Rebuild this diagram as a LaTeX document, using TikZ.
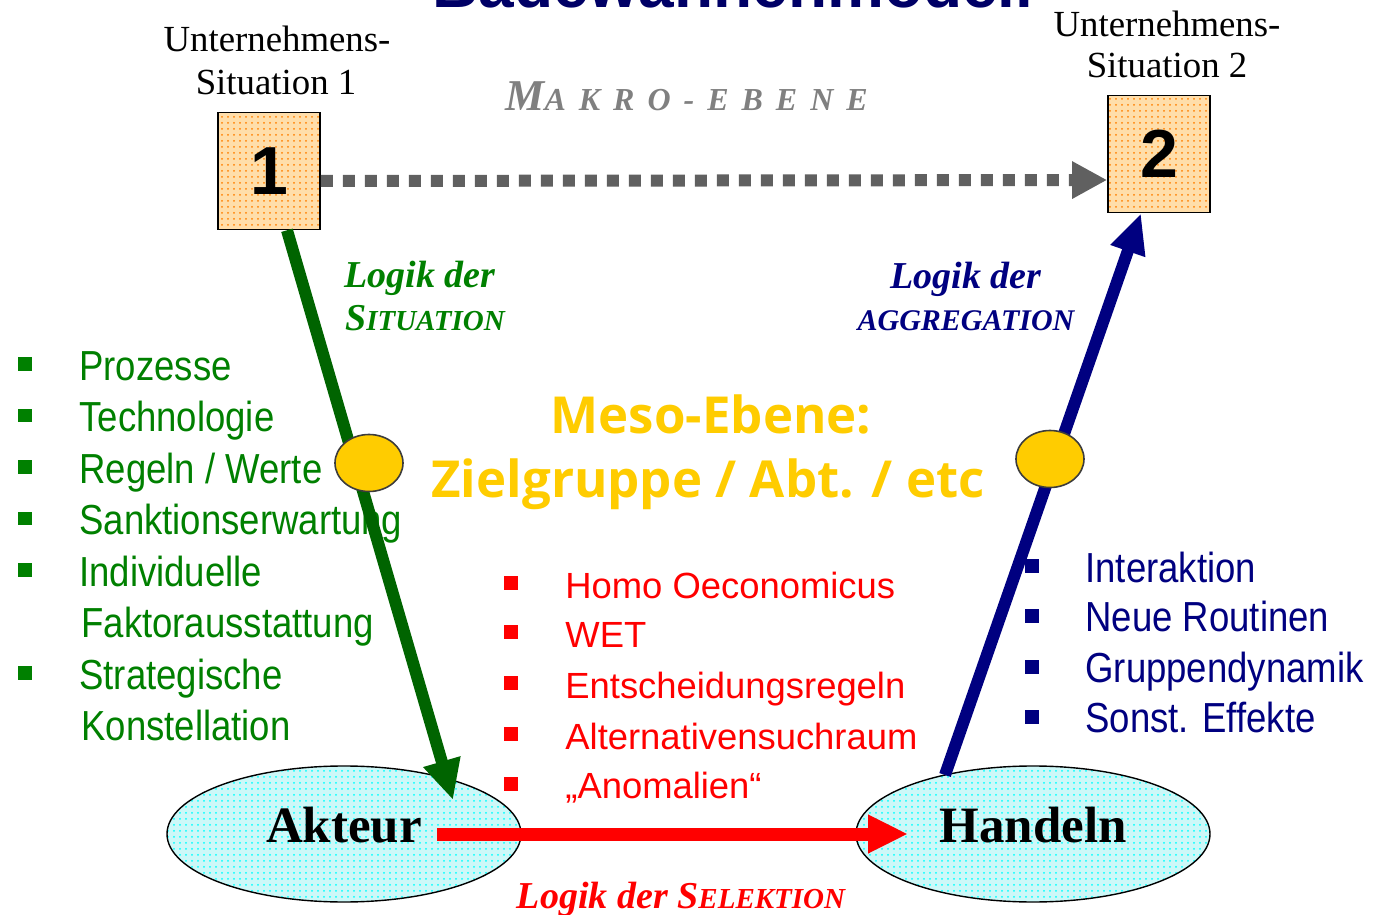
\documentclass[tikz,border=0pt]{standalone}
\usepackage{fontspec}
\usepackage{graphicx}
\setmainfont{Liberation Serif}
\newfontfamily\arialf{Liberation Sans}
\newfontfamily\mesof{Open Sans}
\usetikzlibrary{arrows.meta,patterns,shapes.geometric,calc}
\definecolor{titleblue}{RGB}{0,0,102}
\definecolor{navy}{RGB}{0,0,128}
\definecolor{dgreen}{RGB}{0,100,0}
\definecolor{lgreen}{RGB}{0,128,0}
\definecolor{gold}{RGB}{255,204,0}
\definecolor{makrogray}{RGB}{128,128,128}
\definecolor{dotgray}{RGB}{96,96,96}
\definecolor{boxfill}{RGB}{255,222,170}
\definecolor{ellfill}{RGB}{205,248,248}
\definecolor{yellborder}{RGB}{60,60,60}
\newcommand\vs[1]{\scalebox{0.87}[1]{#1}}
\newcommand\mk{\hspace{6.5pt}}
\begin{document}
\begin{tikzpicture}[x=0.5pt,y=-0.5pt,
  sitbox/.style={rectangle, draw=black, line width=0.8pt, preaction={fill=boxfill}, pattern=dots, pattern color=orange, minimum width=51pt, minimum height=58.5pt, inner sep=0pt, font=\arialf\bfseries\fontsize{34}{34}\selectfont},
  actell/.style={ellipse, draw=black, line width=0.7pt, preaction={fill=ellfill}, pattern=dots, pattern color=cyan, minimum width=177pt, minimum height=68pt, inner sep=0pt, font=\bfseries\fontsize{25.5}{26}\selectfont, text height=17pt, text depth=9pt},
  yell/.style={ellipse, draw=yellborder, line width=0.8pt, fill=gold, minimum width=34pt, minimum height=28.5pt, inner sep=0pt},
  unt/.style={anchor=base, inner sep=0pt, font=\fontsize{18.4}{21}\selectfont},
  logik/.style={anchor=base, inner sep=0pt, font=\bfseries\itshape\fontsize{19}{20}\selectfont},
  glist/.style={anchor=base west, inner sep=0pt, text=lgreen, font=\arialf\fontsize{21}{24}\selectfont},
  blist/.style={anchor=base west, inner sep=0pt, text=navy, font=\arialf\fontsize{21}{24}\selectfont},
  rlist/.style={anchor=base west, inner sep=0pt, text=red, font=\arialf\fontsize{18.2}{21}\selectfont},
  bullet/.style={rectangle, inner sep=0pt, minimum size=6.8pt},
  meso/.style={anchor=base, inner sep=0pt, text=gold, font=\mesof\bfseries\fontsize{25.5}{28}\selectfont},
  garrow/.style={draw=dgreen, line width=6pt, -{Triangle[length=20pt,width=18pt]}},
  barrow/.style={draw=navy, line width=6pt, -{Triangle[length=20pt,width=17pt]}},
  rarrow/.style={draw=red, line width=6.5pt, -{Triangle[length=20pt,width=18pt]}},
  darrow/.style={draw=dotgray, line width=6pt, dash pattern=on 6pt off 5pt, -{Triangle[length=17.5pt,width=17.5pt]}}
]
\useasboundingbox (0,0) rectangle (1373,915);

% title (cut off at the top, as in the reference)
\node[anchor=base, inner sep=0pt, text=titleblue, font=\arialf\bfseries\fontsize{32}{32}\selectfont] (title) at (733,8) {Badewannenmodell};

% situation boxes
\node[sitbox] (b1) at (269,171) {1};
\node[sitbox] (b2) at (1159,154) {2};
\node[unt] (u1a) at (277,52) {Unternehmens-};
\node[unt] (u1b) at (276,95) {Situation 1};
\node[unt] (u2a) at (1167,37) {Unternehmens-};
\node[unt] (u2b) at (1167,78) {Situation 2};

% Makro-Ebene
\node[anchor=base west, inner sep=0pt, text=makrogray, font=\bfseries\itshape] (makro) at (505,111)
  {{\fontsize{22}{23}\selectfont M}{\fontsize{16}{17}\selectfont A\mk K\mk R\mk O\mk -\mk E\mk B\mk E\mk N\mk E}};

% actor ellipses
\node[actell] (akteur) at (344,834) {Akteur};
\node[actell] (handeln) at (1033,834) {Handeln};

% logic labels
\node[logik, text=lgreen] (ls1) at (420,288) {Logik der};
\node[logik, text=lgreen] (ls2) at (425,330) {S{\fontsize{14.5}{15}\selectfont ITUATION}};
\node[logik, text=navy] (la1) at (966,289) {Logik der};
\node[logik, text=navy] (la2) at (966,330) {{\fontsize{15}{15}\selectfont AGGREGATION}};
\node[logik, text=red] (lsel) at (681,908) {Logik der S{\fontsize{14.5}{15}\selectfont ELEKTION}};

% meso
\node[meso] (meso1) at (711,433) {Meso-Ebene:};
\node[meso] (meso2) at (708,497) {Zielgruppe / Abt. / etc};

% green list
\node[bullet, fill=lgreen] (gb1) at (25,364) {};
\node[bullet, fill=lgreen] (gb2) at (25,415.5) {};
\node[bullet, fill=lgreen] (gb3) at (25,467) {};
\node[bullet, fill=lgreen] (gb4) at (25,518.5) {};
\node[bullet, fill=lgreen] (gb5) at (25,570) {};
\node[bullet, fill=lgreen] (gb6) at (25,673) {};
\node[glist] (g1) at (79,380) {\vs{Prozesse}};
\node[glist] (g2) at (79,431.5) {\vs{Technologie}};
\node[glist] (g3) at (79,483) {\vs{Regeln / Werte}};
\node[glist] (g4) at (79,534.5) {\vs{Sanktionserwartung}};
\node[glist] (g5) at (79,586) {\vs{Individuelle}};
\node[glist] (g6) at (81,637.5) {\vs{Faktorausstattung}};
\node[glist] (g7) at (79,689) {\vs{Strategische}};
\node[glist] (g8) at (81,740.5) {\vs{Konstellation}};

% red list
\node[bullet, fill=red] (rb1) at (511,583) {};
\node[bullet, fill=red] (rb2) at (511,632) {};
\node[bullet, fill=red] (rb3) at (511,683) {};
\node[bullet, fill=red] (rb4) at (511,734) {};
\node[bullet, fill=red] (rb5) at (511,784) {};
\node[rlist] (r1) at (565,598) {Homo Oeconomicus};
\node[rlist] (r2) at (565,647) {WET};
\node[rlist] (r3) at (565,698) {Entscheidungsregeln};
\node[rlist] (r4) at (565,749) {Alternativensuchraum};
\node[rlist] (r5) at (565,798) {„Anomalien“};

% blue list
\node[bullet, fill=navy] (bb1) at (1032,566) {};
\node[bullet, fill=navy] (bb2) at (1032,616) {};
\node[bullet, fill=navy] (bb3) at (1032,667) {};
\node[bullet, fill=navy] (bb4) at (1032,717) {};
\node[blist] (bl1) at (1085,582) {\vs{Interaktion}};
\node[blist] (bl2) at (1085,631) {\vs{Neue Routinen}};
\node[blist] (bl3) at (1085,682) {\vs{Gruppendynamik}};
\node[blist] (bl4) at (1085,732) {\vs{Sonst. Effekte}};

% connectors
\draw[darrow] ($(b1.east)+(0,10)$) -- ($(b2.west)+(0,26)$);
\draw[garrow] ($(b1.south)+(18,0)$) -- ($(akteur.center)+(109,-34)$);
\draw[barrow] ($(handeln.center)+(-88,-59)$) -- ($(b2.south)+(-18,0)$);
\draw[rarrow] ($(akteur.center)+(93,0)$) -- ($(handeln.center)+(-125,0)$);

% meso markers
\node[yell] (y1) at (369,463) {};
\node[yell] (y2) at (1050,459) {};
\end{tikzpicture}
\end{document}
